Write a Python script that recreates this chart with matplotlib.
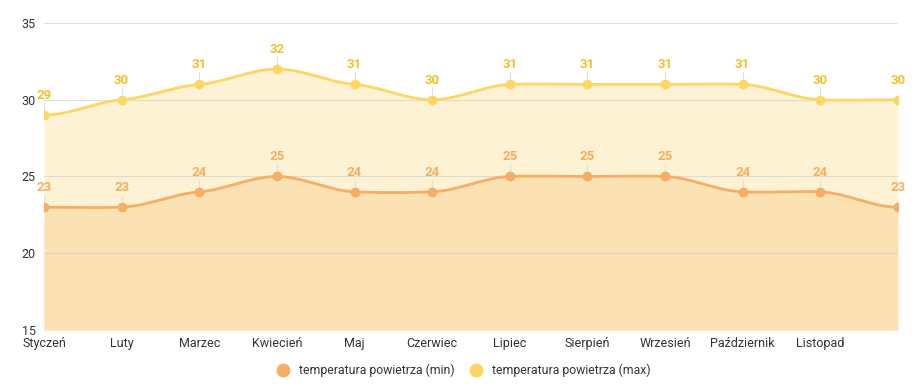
import numpy as np
import matplotlib.pyplot as plt
from matplotlib.lines import Line2D

plt.rcParams['font.family'] = ['Roboto', 'DejaVu Sans']

months = ["Styczeń", "Luty", "Marzec", "Kwiecień", "Maj", "Czerwiec",
          "Lipiec", "Sierpień", "Wrzesień", "Październik", "Listopad", ""]
temp_max = [29, 30, 31, 32, 31, 30, 31, 31, 31, 31, 30, 30]
temp_min = [23, 23, 24, 25, 24, 24, 25, 25, 25, 24, 24, 23]

col_max = "#FDD663"
col_max_txt = "#F4C02C"
col_min = "#F6AE67"
col_min_txt = "#F4AE62"


def smooth(y, n=30, k=0.4):
    # cardinal spline through the points, flat at the ends
    y = np.asarray(y, float)
    m = len(y)
    t = np.zeros(m)
    for i in range(1, m - 1):
        t[i] = k * (y[i + 1] - y[i - 1]) / 2
    xs, ys = [], []
    for i in range(m - 1):
        s = np.linspace(0, 1, n, endpoint=False)
        h00 = 2 * s**3 - 3 * s**2 + 1
        h10 = s**3 - 2 * s**2 + s
        h01 = -2 * s**3 + 3 * s**2
        h11 = s**3 - s**2
        xs.append(i + s)
        ys.append(h00 * y[i] + h10 * t[i] + h01 * y[i + 1] + h11 * t[i + 1])
    xs.append([m - 1])
    ys.append([y[-1]])
    return np.concatenate(xs), np.concatenate(ys)


fig = plt.figure(figsize=(9.18, 3.9), dpi=100)
ax = fig.add_axes([0.048, 0.154, 0.930, 0.787])

x = np.arange(len(months))
for vals, col, fill, txt in [(temp_max, col_max, "#FDF2D3", col_max_txt),
                              (temp_min, col_min, "#FCE1B2", col_min_txt)]:
    sx, sy = smooth(vals)
    ax.fill_between(sx, 15, sy, color=fill, lw=0, zorder=1)
    ax.plot(sx, sy, color=col, lw=2, zorder=3)
    ax.scatter(x, vals, s=50, color=col, zorder=4, lw=0)
    for xi, v in zip(x, vals):
        ax.plot([xi, xi], [v, v + 0.8], color="#E0E0E0", lw=0.8, zorder=2)
        ax.text(xi, v + 0.85, str(v), ha="center", va="bottom", fontsize=9.5,
                fontweight="bold", color=txt, zorder=5)

ax.set_xlim(0, len(months) - 1)
ax.set_ylim(15, 35)
ax.set_yticks([15, 20, 25, 30, 35])
ax.set_xticks(x)
ax.set_xticklabels(months)
ax.grid(axis="y", color="#CCCCCC", lw=0.8, zorder=0)
for gl in ax.get_ygridlines():
    gl.set_zorder(2)
    gl.set_alpha(0.6)
for s in ax.spines.values():
    s.set_visible(False)
ax.tick_params(length=0, labelsize=9, colors="#333333")
ax.tick_params(axis="y", pad=6)
ax.tick_params(axis="x", pad=5)

handles = [Line2D([], [], marker="o", ls="", ms=9, color=col_min, label="temperatura powietrza (min)"),
           Line2D([], [], marker="o", ls="", ms=9, color=col_max, label="temperatura powietrza (max)")]
fig.legend(handles=handles, loc="lower center", bbox_to_anchor=(0.502, 0.005), ncol=2, frameon=False,
           fontsize=8.8, handletextpad=0.3, columnspacing=0.8, labelcolor="#333333")

fig.savefig("out.png", dpi=100)
